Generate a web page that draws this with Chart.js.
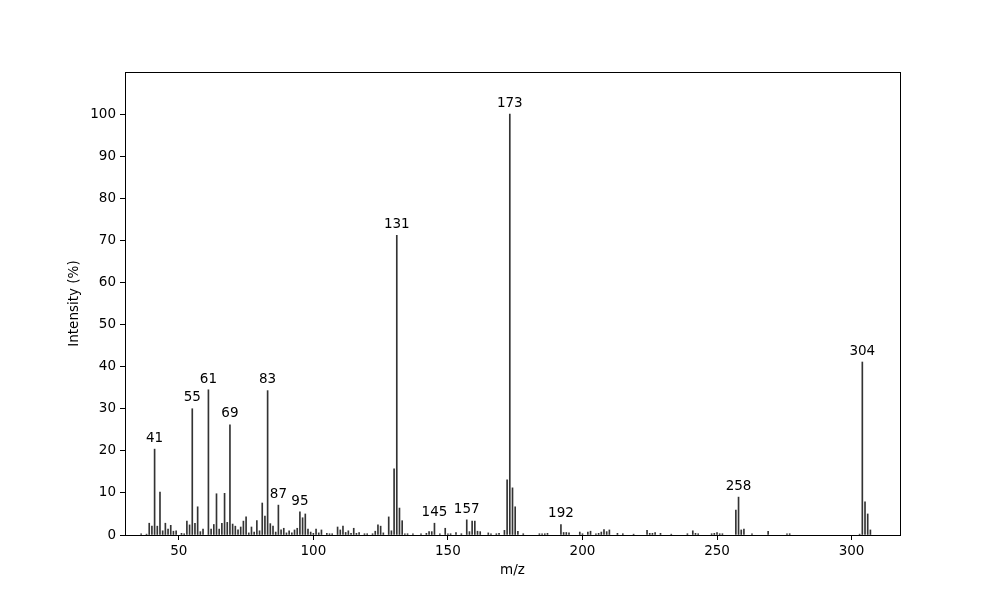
<!DOCTYPE html>
<html>
<head>
<meta charset="utf-8">
<title>Mass spectrum</title>
<script src="https://cdn.jsdelivr.net/npm/chart.js@4/dist/chart.umd.min.js"></script>
<style>
  body { margin: 0; background: #fff; }
  canvas { display: block; }
</style>
</head>
<body>
<canvas id="spectrum" width="1000" height="600"></canvas>
<script>
// m/z of each peak and its relative intensity (%)
const mzValues = [
  36, 38, 39, 40, 41, 42, 43, 44, 45, 46, 47, 48, 49, 51, 52, 53, 54, 55, 56, 57, 58, 59,
  61, 62, 63, 64, 65, 66, 67, 68, 69, 70, 71, 72, 73, 74, 75, 76, 77, 78, 79, 80,
  81, 82, 83, 84, 85, 86, 87, 88, 89, 90, 91, 92, 93, 94, 95, 96, 97, 98, 99, 100,
  101, 102, 103, 105, 106, 107, 109, 110, 111, 112, 113, 114, 115, 116, 117, 119, 120,
  122, 123, 124, 125, 126, 128, 129, 130, 131, 132, 133, 134, 135, 137, 140,
  142, 143, 144, 145, 147, 149, 150, 151, 153, 155, 157, 158, 159, 160,
  161, 162, 165, 166, 168, 169, 171, 172, 173, 174, 175, 176, 178,
  184, 185, 186, 187, 192, 193, 194, 195, 199, 200,
  202, 203, 205, 206, 207, 208, 209, 210, 213, 215, 219,
  224, 225, 226, 227, 229, 233, 239, 241, 242, 243, 248, 249, 250, 251, 252,
  257, 258, 259, 260, 263, 269, 276, 277, 303, 304, 305, 306, 307
];
const intensities = [
  0.3, 0.2, 2.8, 2.1, 20.4, 2.1, 10.2, 1.0, 2.8, 1.4, 2.3, 0.9, 1.0, 0.4, 0.3, 3.3, 2.4, 30.0, 2.8, 6.7, 0.8, 1.4,
  34.5, 1.4, 2.5, 9.8, 1.4, 2.8, 9.9, 3.0, 26.2, 2.6, 2.1, 1.2, 1.9, 3.3, 4.3, 0.5, 1.9, 0.7, 3.4, 1.0,
  7.6, 4.5, 34.3, 2.7, 2.1, 0.7, 7.1, 1.2, 1.6, 0.5, 1.0, 0.5, 1.2, 1.6, 5.5, 4.1, 5.0, 1.4, 0.7, 0.4,
  1.4, 0.5, 1.2, 0.4, 0.3, 0.3, 1.9, 1.2, 2.1, 0.6, 1.0, 0.4, 1.6, 0.4, 0.6, 0.3, 0.3,
  0.3, 0.9, 2.4, 2.1, 0.5, 4.3, 1.0, 15.7, 71.2, 6.4, 3.4, 0.3, 0.3, 0.3, 0.3,
  0.4, 0.8, 0.8, 2.8, 0.3, 1.6, 0.3, 0.3, 0.6, 0.3, 3.6, 0.8, 3.3, 3.3,
  0.9, 0.8, 0.5, 0.3, 0.3, 0.4, 1.1, 13.1, 100, 11.2, 6.7, 0.9, 0.3,
  0.3, 0.3, 0.3, 0.4, 2.5, 0.6, 0.6, 0.5, 0.7, 0.3,
  0.7, 0.9, 0.3, 0.4, 0.7, 1.3, 0.8, 1.2, 0.4, 0.3, 0.2,
  1.1, 0.4, 0.4, 0.6, 0.4, 0.2, 0.3, 1.0, 0.4, 0.3, 0.3, 0.4, 0.6, 0.3, 0.3,
  5.9, 9.0, 1.2, 1.4, 0.3, 0.9, 0.3, 0.3, 0.2, 41.1, 7.9, 5.0, 1.2
];

// peaks that get their m/z written above them
const labelledPeaks = [41, 55, 61, 69, 83, 87, 95, 131, 145, 157, 173, 192, 258, 304];

// axis ticks
const xTicks = [50, 100, 150, 200, 250, 300];
const yTicks = [0, 10, 20, 30, 40, 50, 60, 70, 80, 90, 100];

const fontFamily = "'DejaVu Sans', sans-serif";

// build the points for chart.js
let points = [];
for (let i = 0; i < mzValues.length; i++) {
  points.push({ x: mzValues[i], y: intensities[i] });
}

// draws the box around the plot + peak labels
const framePlugin = {
  id: 'frame',
  afterDatasetsDraw(chart) {
    const ctx = chart.ctx;
    const area = chart.chartArea;
    ctx.save();
    ctx.strokeStyle = '#000';
    ctx.lineWidth = 1;
    ctx.strokeRect(Math.round(area.left) + 0.5, Math.round(area.top) + 0.5,
      Math.round(area.right - area.left), Math.round(area.bottom - area.top));

    ctx.fillStyle = '#000';
    ctx.font = '13.5px ' + fontFamily;
    ctx.textAlign = 'center';
    ctx.textBaseline = 'bottom';
    labelledPeaks.forEach(mz => {
      const idx = mzValues.indexOf(mz);
      if (idx < 0) return;
      const px = chart.scales.x.getPixelForValue(mz);
      const py = chart.scales.y.getPixelForValue(intensities[idx]);
      ctx.fillText(String(mz), px, py - 4);
    });
    ctx.restore();
  }
};

const ctx = document.getElementById('spectrum').getContext('2d');
const spectrumChart = new Chart(ctx, {
  type: 'bar',
  data: {
    datasets: [{
      label: 'Intensity',
      data: points,
      backgroundColor: '#333333',
      borderWidth: 0,
      barThickness: 1,
      grouped: false
    }]
  },
  options: {
    responsive: false,
    animation: false,
    layout: { padding: { left: 0, top: 72, right: 100, bottom: 0 } },
    plugins: {
      legend: { display: false },
      tooltip: { enabled: false }
    },
    scales: {
      x: {
        type: 'linear',
        min: 30,
        max: 318,
        offset: false,
        afterBuildTicks: scale => { scale.ticks = xTicks.map(v => ({ value: v })); },
        afterFit: scale => { scale.height = 65; },
        grid: { offset: false, drawOnChartArea: false, drawTicks: true, tickLength: 5, tickColor: '#000' },
        border: { display: true, color: '#000', width: 1 },
        ticks: { color: '#000', padding: 3, maxRotation: 0, font: { family: fontFamily, size: 13.5 } },
        title: { display: true, text: 'm/z', color: '#000', padding: { top: 0, bottom: 21 },
                 font: { family: fontFamily, size: 13.5 } }
      },
      y: {
        min: 0,
        max: 110,
        afterBuildTicks: scale => { scale.ticks = yTicks.map(v => ({ value: v })); },
        afterFit: scale => { scale.width = 125; },
        grid: { drawOnChartArea: false, drawTicks: true, tickLength: 5, tickColor: '#000' },
        border: { display: true, color: '#000', width: 1 },
        ticks: { color: '#000', padding: 4, font: { family: fontFamily, size: 13.5 } },
        title: { display: true, text: 'Intensity (%)', color: '#000', padding: { top: 66, bottom: 0 },
                 font: { family: fontFamily, size: 13.5 } }
      }
    }
  },
  plugins: [framePlugin]
});
</script>
</body>
</html>
